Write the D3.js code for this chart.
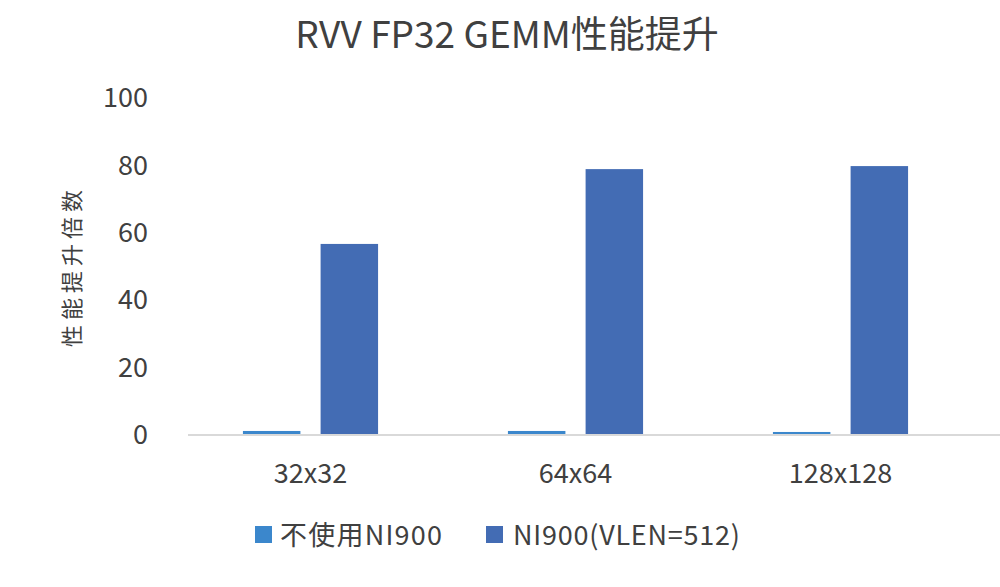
<!DOCTYPE html>
<html>
<head>
<meta charset="utf-8">
<script src="https://cdn.jsdelivr.net/npm/d3@7"></script>
<style>
  html, body { margin: 0; padding: 0; background: #ffffff; }
  svg { display: block; }
  text { font-family: "Noto Sans CJK SC", "Noto Sans", sans-serif; fill: #404040; }
</style>
</head>
<body>
<svg id="chart" width="1000" height="587"></svg>
<script>
// Matrix sizes on the x axis
const categories = ["32x32", "64x64", "128x128"];
// Speed-up factor for each series
const seriesNames = ["不使用NI900", "NI900(VLEN=512)"];
const withoutNI900 = [0.9, 0.9, 0.6];
const withNI900 = [56.4, 78.6, 79.5];
const yTicks = [0, 20, 40, 60, 80, 100];
const colors = ["#3b87cc", "#436cb4"];

const svg = d3.select("#chart");

const x0 = d3.scaleBand()
  .domain(categories)
  .range([178, 973])
  .paddingInner(0.49)
  .paddingOuter(0.245);

const x1 = d3.scaleBand()
  .domain(seriesNames)
  .range([0, x0.bandwidth()])
  .paddingInner(0.26)
  .paddingOuter(0);

const y = d3.scaleLinear().domain([0, 100]).range([434, 97]);

const rows = categories.map((c, i) => ({
  category: c,
  values: [withoutNI900[i], withNI900[i]]
}));

// Title
svg.append("text")
  .attr("x", 507).attr("y", 48)
  .attr("text-anchor", "middle")
  .style("font-size", "37px")
  .text("RVV FP32 GEMM性能提升");

// Y axis tick labels (no axis line, no gridlines)
const yAxis = d3.axisLeft(y).tickValues(yTicks).tickSize(0).tickPadding(0);
const yg = svg.append("g").attr("transform", "translate(148,0)").call(yAxis);
yg.select(".domain").remove();
yg.selectAll("text")
  .attr("dy", "0.36em")
  .style("font-size", "27px")
  .style("font-family", "'Noto Sans CJK SC', sans-serif")
  .attr("fill", "#404040");

// Y axis title
svg.append("text")
  .attr("transform", "translate(80,266) rotate(-90)")
  .attr("text-anchor", "middle")
  .style("font-size", "22px")
  .style("letter-spacing", "5px")
  .text("性能提升倍数");

// Baseline
svg.append("line")
  .attr("x1", 188).attr("x2", 1000)
  .attr("y1", y(0) + 1).attr("y2", y(0) + 1)
  .attr("stroke", "#d9d9d9").attr("stroke-width", 2);

// Bars
const groups = svg.append("g").selectAll("g")
  .data(rows).join("g")
  .attr("transform", d => `translate(${x0(d.category)},0)`);

groups.selectAll("rect")
  .data(d => d.values.map((v, i) => ({ name: seriesNames[i], value: v, idx: i })))
  .join("rect")
  .attr("x", d => x1(d.name))
  .attr("width", x1.bandwidth())
  .attr("y", d => y(d.value))
  .attr("height", d => y(0) - y(d.value))
  .attr("fill", d => colors[d.idx]);

// X axis category labels
const xAxis = d3.axisBottom(x0).tickSize(0).tickPadding(0);
const xg = svg.append("g").attr("transform", "translate(0,473)").call(xAxis);
xg.select(".domain").remove();
xg.selectAll("text")
  .attr("y", 0).attr("dy", "0.36em")
  .style("font-size", "27px")
  .style("font-family", "'Noto Sans CJK SC', sans-serif")
  .attr("fill", "#404040");

// Legend
const legendPos = [255, 486];
const legendTextWidth = [162, 227];
const legend = svg.append("g").selectAll("g")
  .data(seriesNames).join("g")
  .attr("transform", (d, i) => `translate(${legendPos[i]},526)`);
legend.append("rect")
  .attr("width", 17).attr("height", 17)
  .attr("fill", (d, i) => colors[i]);
legend.append("text")
  .attr("x", (d, i) => i === 0 ? 25 : 27)
  .attr("y", 9).attr("dy", "0.36em")
  .attr("textLength", (d, i) => legendTextWidth[i])
  .attr("lengthAdjust", "spacing")
  .style("font-size", "27px")
  .text(d => d);
</script>
</body>
</html>
